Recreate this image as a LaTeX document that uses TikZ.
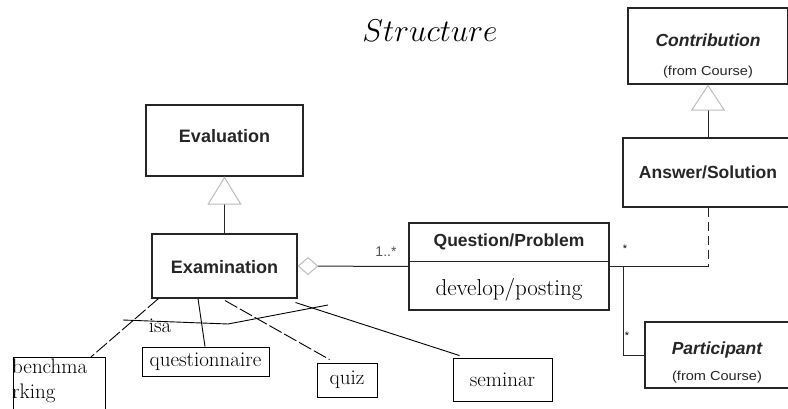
\RequirePackage{fix-cm}
\documentclass[tikz,border=0pt]{standalone}
\usepackage{fontspec}
\usepackage{graphicx}
\newfontfamily\umlsans{Liberation Sans}
\usetikzlibrary{arrows.meta}

\definecolor{inkgrey}{HTML}{262626}
\definecolor{tipgrey}{HTML}{BDBDBD}
\definecolor{labelgrey}{HTML}{555555}

\tikzset{
  umlbox/.style={draw=inkgrey, line width=1.1pt, fill=white, inner sep=0pt},
  sketchbox/.style={draw=black, line width=0.9pt, fill=white, inner sep=0pt},
  classname/.style={font={\umlsans\bfseries\fontsize{18}{21}\selectfont}, text=inkgrey, inner sep=0pt},
  abstractname/.style={font={\umlsans\bfseries\itshape\fontsize{17.5}{21}\selectfont}, text=inkgrey, inner sep=0pt},
  pkgnote/.style={font={\umlsans\fontsize{13}{15}\selectfont}, text=inkgrey, inner sep=0pt},
  opname/.style={font={\fontsize{23}{27}\selectfont}, inner sep=0pt},
  handtext/.style={font={\fontsize{21}{25}\selectfont}, inner sep=0pt},
  mult/.style={font={\umlsans\fontsize{14}{16}\selectfont}, text=labelgrey, inner sep=0pt},
  connector/.style={draw=inkgrey, line width=1pt},
  sketch/.style={draw=black, line width=0.9pt},
  generalises/.style={-{Triangle[open, length=#1, width=34pt, color=tipgrey]}},
  generalises/.default=28pt,
}

\begin{document}
\begin{tikzpicture}[x=1pt, y=-1pt]
\clip (0,0) rectangle (788,409);
\fill[white] (0,0) rectangle (788,409);

% heading
\node (title) at (430,31) {\fontsize{31.5}{36}\selectfont $Structure$};

% evaluation hierarchy
\node[umlbox, minimum width=157pt, minimum height=71pt] (eval) at (224.5,140.5) {};
\node[classname] (evalname) at (224.5,136) {Evaluation};
\node[umlbox, minimum width=145pt, minimum height=64pt] (exam) at (224.5,266) {};
\node[classname] (examname) at (224.5,267) {Examination};
\draw[connector, generalises] (exam.north) -- (eval.south);

% question class with one operation
\node[umlbox, minimum width=200pt, minimum height=87pt] (question) at (509,266.5) {};
\draw[connector] ([yshift=5.5pt]question.west) -- ([yshift=5.5pt]question.east);
\node[classname, font={\umlsans\bfseries\fontsize{17.5}{21}\selectfont}] (qname) at (509,242) {Question/Problem};
\node[opname] (qop) at (509,290) {develop/posting};

% aggregation examination <>-- question
\draw[connector, {Diamond[open, length=21pt, width=18pt, color=tipgrey]}-] (exam.east) -- (question.west);
\node[mult] (mq) at (386,252) {1..*};

% contribution hierarchy
\node[umlbox, minimum width=160pt, minimum height=76pt] (contrib) at (708,46) {};
\node[abstractname] (contribname) at (708,40) {Contribution};
\node[pkgnote] (contribpkg) at (708,72) {\scalebox{1.12}[1]{(from Course)}};
\node[umlbox, minimum width=170pt, minimum height=69pt] (answer) at (708,172.5) {};
\node[classname, font={\umlsans\bfseries\fontsize{17.5}{21}\selectfont}] (answername) at (708,172) {Answer/Solution};
\draw[connector, generalises=26pt] (answer.north) -- (contrib.south);

% participant
\node[umlbox, minimum width=145pt, minimum height=66pt] (participant) at (717.5,355) {};
\node[abstractname] (partname) at (717,350) {Participant};
\node[pkgnote] (partpkg) at (717,377) {\scalebox{1.12}[1]{(from Course)}};

% association question -- participant, with answer as association class
\coordinate (assocEnd) at (708,266.5);
\coordinate (branch) at (623,266.5);
\draw[connector] (question.east) -- (assocEnd);
\draw[connector, dash pattern=on 9pt off 5pt] (answer.south) -- (assocEnd);
\draw[connector] (branch) |- (participant.west);
\node[mult, text=black, font={\umlsans\fontsize{11}{13}\selectfont}] (ma) at (625,249) {*};
\node[mult, text=black, font={\umlsans\fontsize{11}{13}\selectfont}] (mp) at (627,336) {*};

% hand-drawn kinds of examination
\node[sketchbox, minimum width=92pt, minimum height=70pt, anchor=north west] (bench) at (13,357) {};
\node[handtext, anchor=north west, align=left] (benchlabel) at (12,359) {benchma\\rking};
\node[sketchbox, minimum width=127pt, minimum height=29pt, handtext] (questionnaire) at (205.5,361.5) {questionnaire};
\node[sketchbox, minimum width=60pt, minimum height=34pt, handtext] (quiz) at (347,380) {quiz};
\node[sketchbox, minimum width=99pt, minimum height=43pt, handtext] (seminar) at (502.5,379.5) {seminar};

\draw[sketch, dash pattern=on 14pt off 3pt] ([xshift=7pt]exam.south west) -- ([xshift=-15pt]bench.north east);
\draw[sketch] ([xshift=-26.5pt]exam.south) -- ([xshift=-0.5pt]questionnaire.north);
\draw[sketch, dash pattern=on 14pt off 3pt] ([xshift=0.5pt, yshift=-2pt]exam.south) -- ([xshift=13pt, yshift=3pt]quiz.north west);
\draw[sketch] ([xshift=-2pt, yshift=-4pt]exam.south east) -- ([xshift=7pt, yshift=2pt]seminar.north west);

% the "isa" stroke across the specialisations
\coordinate (isaStart) at (123,320);
\coordinate (isaBend) at (228,324);
\coordinate (isaEnd) at (328,305);
\draw[sketch] (isaStart) -- (isaBend) -- (isaEnd);
\node[handtext] (isa) at (160,326) {isa};
\end{tikzpicture}
\end{document}
